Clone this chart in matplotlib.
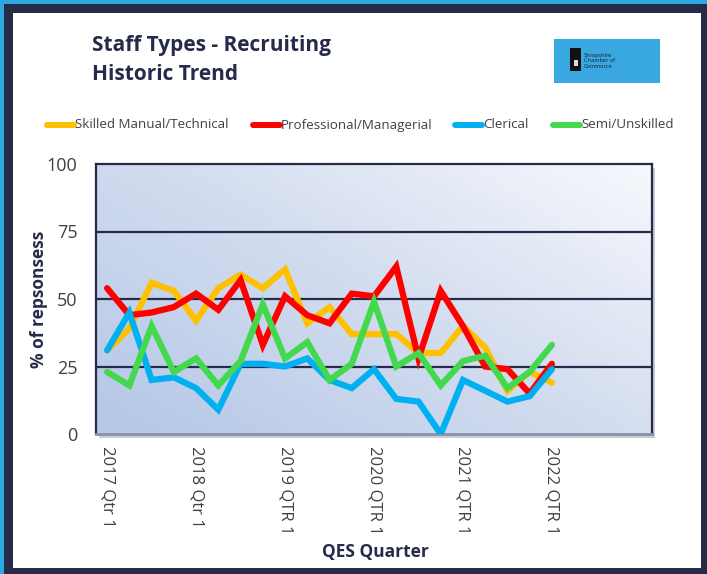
import numpy as np
import matplotlib
matplotlib.use("Agg")
import matplotlib.pyplot as plt
from matplotlib.patches import Rectangle
from matplotlib.lines import Line2D
from matplotlib.colors import LinearSegmentedColormap

# ---- data ----
series_names = ["Skilled Manual/Technical", "Professional/Managerial", "Clerical", "Semi/Unskilled"]
skilled = [31, 39, 56, 53, 42, 54, 59, 54, 61, 41, 47, 37, 37, 37, 30, 30, 40, 32, 16, 23, 19]
professional = [54, 44, 45, 47, 52, 46, 57, 33, 51, 44, 41, 52, 51, 62, 28, 53, 40, 25, 24, 15, 26]
clerical = [31, 45, 20, 21, 17, 9, 26, 26, 25, 28, 20, 17, 24, 13, 12, 0, 20, 16, 12, 14, 24]
semi = [23, 18, 40, 23, 28, 18, 27, 48, 28, 34, 20, 26, 49, 25, 30, 18, 27, 29, 17, 23, 33]
n_categories = 25
tick_positions = [0, 4, 8, 12, 16, 20]
tick_labels = ["2017 Qtr 1", "2018 Qtr 1", "2019 QTR 1", "2020 QTR 1", "2021 QTR 1", "2022 QTR 1"]
y_ticks = [0, 25, 50, 75, 100]

colors = ["#FFC000", "#FF0000", "#00B0F0", "#44D84F"]
navy = "#272B4A"
text_grey = "#404040"

W, H = 707, 574
fig = plt.figure(figsize=(W / 100, H / 100), dpi=100)
fig.patch.set_facecolor("#2AA9E0")

def fx(px):
    return px / W

def fy(py):
    return 1 - py / H

# frame
fig.add_artist(Rectangle((fx(4), 0), 1 - fx(4), fy(4), transform=fig.transFigure,
                         facecolor=navy, edgecolor="none", zorder=0))
fig.add_artist(Rectangle((fx(13), fy(568)), fx(701) - fx(13), fy(13) - fy(568),
                         transform=fig.transFigure, facecolor="white", edgecolor="none", zorder=0))

# axes
ax_l, ax_r, ax_t, ax_b = 96, 652, 164, 434
# shadow
fig.add_artist(Rectangle((fx(ax_l + 3), fy(ax_b + 4)), fx(ax_r) - fx(ax_l), fy(ax_t) - fy(ax_b),
                         transform=fig.transFigure, facecolor="#C9CCD6", edgecolor="none", zorder=0.5))
ax = fig.add_axes([fx(ax_l), fy(ax_b), fx(ax_r) - fx(ax_l), fy(ax_t) - fy(ax_b)])
ax.set_zorder(1)

# gradient background
gx = np.linspace(0, 1, 200)
gy = np.linspace(0, 1, 200)
GX, GY = np.meshgrid(gx, gy)
grad = (GX * 0.55 + GY * 0.45)
cmap = LinearSegmentedColormap.from_list("bg", ["#B4C7E7", "#D2DCEF", "#F6F8FC"])
ax.imshow(grad, extent=[-0.5, n_categories - 0.5, 0, 100], origin="lower", aspect="auto",
          cmap=cmap, zorder=0, interpolation="bilinear")

x = np.arange(len(skilled))
for vals, c in zip([skilled, professional, clerical, semi], colors):
    ax.plot(x, vals, color=c, lw=4.5, solid_joinstyle="miter", solid_capstyle="round", zorder=3)

ax.set_xlim(-0.5, n_categories - 0.5)
ax.set_ylim(0, 100)
ax.set_yticks(y_ticks)
ax.set_yticklabels([str(v) for v in y_ticks], fontsize=13, color=text_grey, family="Open Sans")
ax.set_xticks(tick_positions)
ax.set_xticklabels(tick_labels, rotation=270, fontsize=12, color=text_grey, family="Open Sans",
                   va="top", ha="center")
ax.tick_params(axis="both", length=0)
ax.tick_params(axis="y", pad=13.5)
ax.tick_params(axis="x", pad=9)
for yv in [25, 50, 75]:
    ax.axhline(yv, color=navy, lw=1.6, zorder=1)
for s in ["left", "top", "right"]:
    ax.spines[s].set_color(navy)
    ax.spines[s].set_linewidth(1.6)
ax.spines["bottom"].set_color("#8C90A3")
ax.spines["bottom"].set_linewidth(2)

ax.set_ylabel("% of repsonsess", fontsize=12.5, fontweight="bold", color=navy, family="Open Sans",
              labelpad=-1)
fig.text(fx(375), fy(552), "QES Quarter", fontsize=12.5, fontweight="bold", color=navy,
         family="Open Sans", ha="center", va="center")

# title
fig.text(fx(92), fy(45), "Staff Types - Recruiting", fontsize=15, fontweight="bold", color=navy,
         family="Open Sans", ha="left", va="center")
fig.text(fx(92), fy(74), "Historic Trend", fontsize=15, fontweight="bold", color=navy,
         family="Open Sans", ha="left", va="center")

# legend
leg_x = [47, 253, 455, 553]
for name, c, lx in zip(series_names, colors, leg_x):
    fig.add_artist(Line2D([fx(lx), fx(lx + 27)], [fy(125), fy(125)], transform=fig.transFigure,
                          color=c, lw=4.3, solid_capstyle="round"))
    fig.text(fx(lx + 28), fy(125), name, fontsize=9.6, color=text_grey, family="Open Sans",
             ha="left", va="center")

# logo
fig.add_artist(Rectangle((fx(554), fy(83)), fx(660) - fx(554), fy(39) - fy(83),
                         transform=fig.transFigure, facecolor="#3AA8E0", edgecolor="none"))
fig.add_artist(Rectangle((fx(570), fy(71)), fx(581) - fx(570), fy(48) - fy(71),
                         transform=fig.transFigure, facecolor="#111111", edgecolor="none"))
fig.add_artist(Rectangle((fx(574), fy(66)), fx(578) - fx(574), fy(60) - fy(66),
                         transform=fig.transFigure, facecolor="#DDDDDD", edgecolor="none"))
fig.text(fx(584), fy(61), "Shropshire\nChamber of\nCommerce", fontsize=3.8, color="#1A2740",
         family="DejaVu Sans", ha="left", va="center", linespacing=1.0)

fig.savefig("out.png", dpi=100)
